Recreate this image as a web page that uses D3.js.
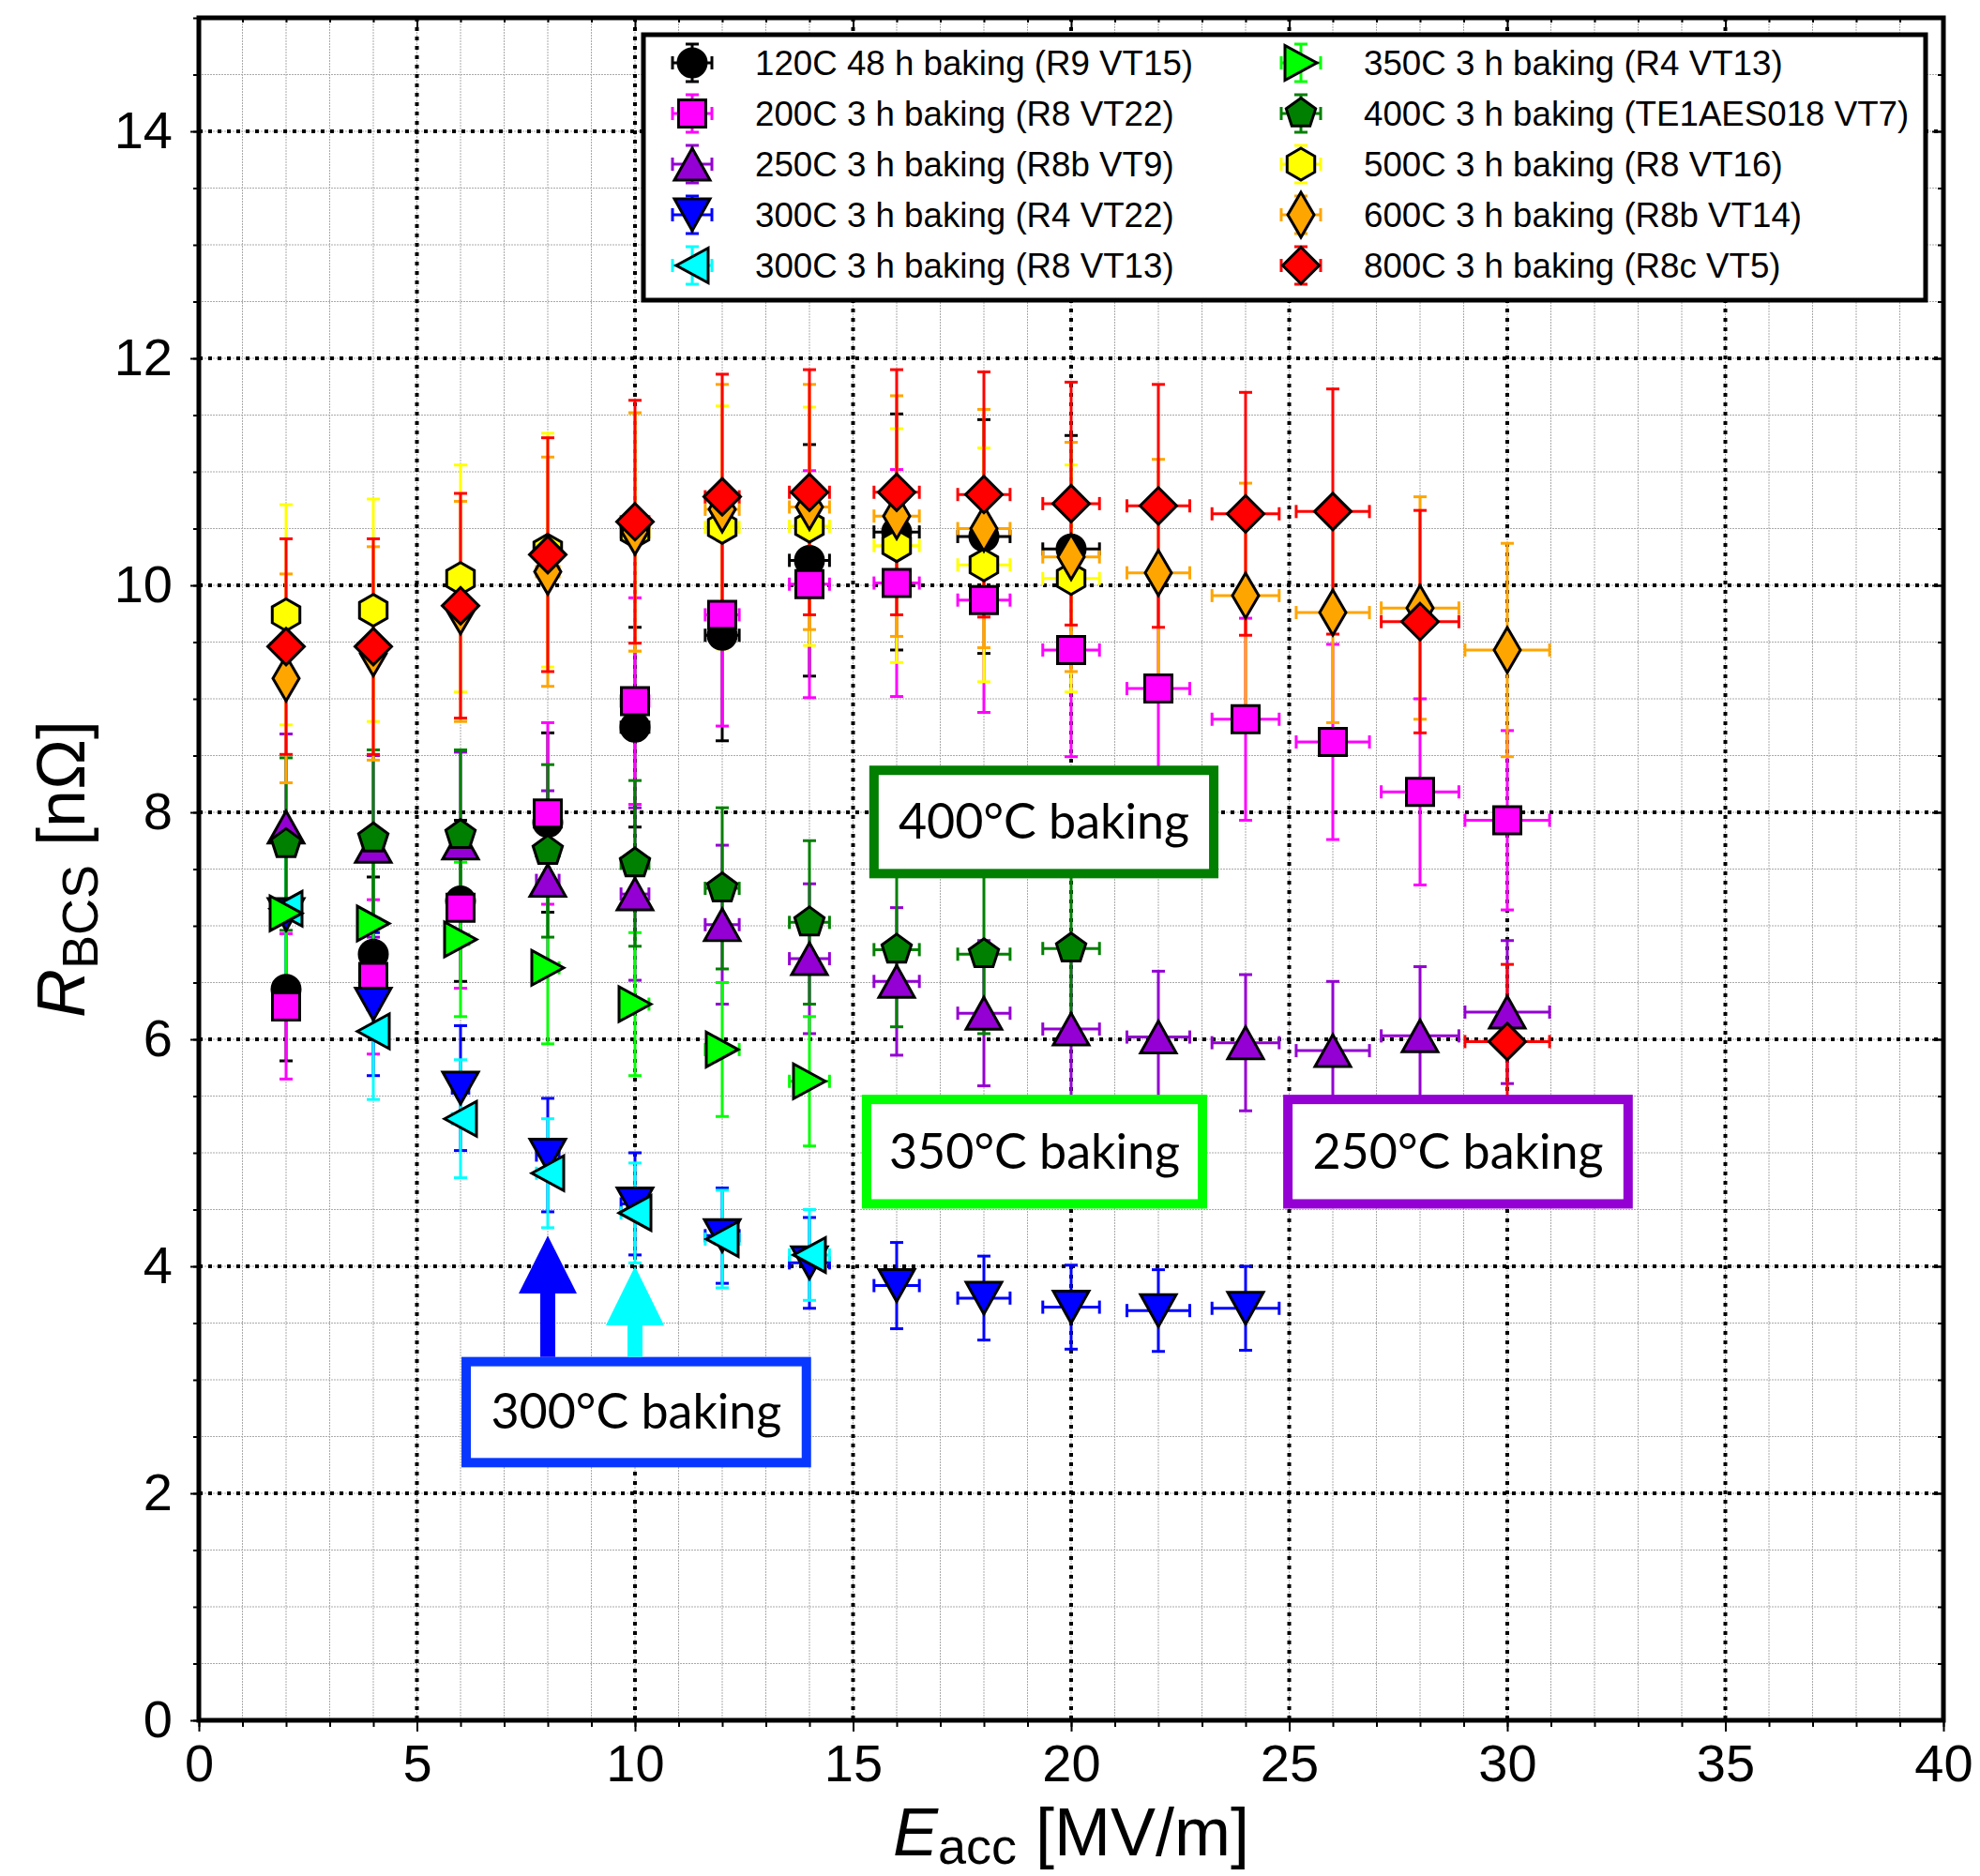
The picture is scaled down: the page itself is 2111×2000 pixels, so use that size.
<!DOCTYPE html>
<html>
<head>
<meta charset="utf-8">
<script src="https://cdn.jsdelivr.net/npm/d3@7"></script>
<style>
  body { margin: 0; background: #fff; }
  svg { display: block; }
</style>
</head>
<body>
<div id="chart"></div>
<script>
// Eacc points (MV/m), shared by all runs, and their horizontal error
var eacc    = [2, 4, 6, 8, 10, 12, 14, 16, 18, 20, 22, 24, 26, 28, 30];
var eaccErr = [0.06, 0.13, 0.19, 0.26, 0.32, 0.39, 0.46, 0.52, 0.6, 0.65, 0.72, 0.77, 0.84, 0.89, 0.97];

// R_BCS values [nOhm] and errors
var r120    = [6.44, 6.75, 7.22, 7.91, 8.75, 9.56, 10.22, 10.47, 10.43, 10.32];
var r120Err = [0.63, 0.68, 0.71, 0.79, 0.88, 0.93, 1.02, 1.04, 1.03, 1.0];
var r200    = [6.29, 6.55, 7.16, 7.99, 8.98, 9.74, 10.01, 10.02, 9.87, 9.43, 9.09, 8.82, 8.62, 8.18, 7.93];
var r200Err = [0.64, 0.68, 0.71, 0.8, 0.91, 0.98, 1.0, 1.0, 0.99, 0.94, 0.92, 0.89, 0.86, 0.82, 0.79];
var r250    = [7.87, 7.70, 7.73, 7.40, 7.28, 7.01, 6.71, 6.51, 6.23, 6.09, 6.02, 5.97, 5.90, 6.03, 6.24];
var r250Err = [0.82, 0.8, 0.8, 0.79, 0.76, 0.7, 0.66, 0.65, 0.64, 0.62, 0.58, 0.6, 0.61, 0.61, 0.63];
var r300a    = [7.10, 6.31, 5.57, 4.98, 4.55, 4.27, 4.03, 3.83, 3.72, 3.64, 3.61, 3.63];
var r300aErr = [0.7, 0.63, 0.55, 0.5, 0.45, 0.42, 0.4, 0.38, 0.37, 0.37, 0.36, 0.37];
var r300b    = [7.15, 6.07, 5.30, 4.82, 4.47, 4.24, 4.10];
var r300bErr = [0.65, 0.6, 0.52, 0.48, 0.44, 0.43, 0.4];
var r350    = [7.11, 7.02, 6.88, 6.63, 6.31, 5.91, 5.63];
var r350Err = [0.6, 0.65, 0.68, 0.67, 0.63, 0.59, 0.57];
var r400    = [7.72, 7.77, 7.80, 7.66, 7.55, 7.33, 7.03, 6.79, 6.75, 6.80];
var r400Err = [0.76, 0.78, 0.75, 0.76, 0.73, 0.71, 0.72, 0.68, 0.7, 0.7];
var r500    = [9.74, 9.78, 10.06, 10.31, 10.47, 10.51, 10.52, 10.35, 10.18, 10.06];
var r500Err = [0.97, 0.98, 1.0, 1.03, 1.05, 1.07, 1.05, 1.03, 1.03, 1.0];
var r600    = [9.18, 9.40, 9.77, 10.12, 10.47, 10.67, 10.69, 10.61, 10.50, 10.25, 10.11, 9.91, 9.76, 9.80, 9.43];
var r600Err = [0.92, 0.94, 0.97, 1.01, 1.05, 1.1, 1.08, 1.06, 1.05, 1.01, 1.0, 0.99, 0.97, 0.98, 0.94];
var r800    = [9.46, 9.46, 9.82, 10.27, 10.56, 10.78, 10.82, 10.82, 10.80, 10.72, 10.70, 10.63, 10.65, 9.68, 5.98];
var r800Err = [0.95, 0.95, 0.99, 1.03, 1.07, 1.08, 1.08, 1.08, 1.08, 1.07, 1.07, 1.07, 1.08, 0.98, 0.68];

var xTicks = [0, 5, 10, 15, 20, 25, 30, 35, 40];
var yTicks = [0, 2, 4, 6, 8, 10, 12, 14];

var series = [
  {label: "120C 48 h baking (R9 VT15)",      vals: r120,  errs: r120Err,  color: "#000000", shape: "circle"},
  {label: "200C 3 h baking (R8 VT22)",       vals: r200,  errs: r200Err,  color: "#ff00ff", shape: "square"},
  {label: "250C 3 h baking (R8b VT9)",       vals: r250,  errs: r250Err,  color: "#9400d3", shape: "triUp"},
  {label: "300C 3 h baking (R4 VT22)",       vals: r300a, errs: r300aErr, color: "#0000ff", shape: "triDown"},
  {label: "300C 3 h baking (R8 VT13)",       vals: r300b, errs: r300bErr, color: "#00ffff", shape: "triLeft"},
  {label: "350C 3 h baking (R4 VT13)",       vals: r350,  errs: r350Err,  color: "#00ff00", shape: "triRight"},
  {label: "400C 3 h baking (TE1AES018 VT7)", vals: r400,  errs: r400Err,  color: "#008000", shape: "pentagon"},
  {label: "500C 3 h baking (R8 VT16)",       vals: r500,  errs: r500Err,  color: "#ffff00", shape: "hexagon"},
  {label: "600C 3 h baking (R8b VT14)",      vals: r600,  errs: r600Err,  color: "#ffa500", shape: "diamondTall"},
  {label: "800C 3 h baking (R8c VT5)",       vals: r800,  errs: r800Err,  color: "#ff0000", shape: "diamond"}
];

// annotation boxes, in data coordinates
var notes = [
  {text: "400°C baking", color: "#007f00", x0: 15.48, x1: 23.27, y0: 8.37, y1: 7.46},
  {text: "350°C baking", color: "#00ff00", x0: 15.31, x1: 23.01, y0: 5.47, y1: 4.55},
  {text: "250°C baking", color: "#9400d3", x0: 24.97, x1: 32.77, y0: 5.47, y1: 4.55},
  {text: "300°C baking", color: "#0838ff", x0: 6.13,  x1: 13.93, y0: 3.16, y1: 2.27}
];
var arrows = [
  {x: 8,  tip: 4.27, head: 3.76, base: 3.16, color: "#0000ff"},
  {x: 10, tip: 4.00, head: 3.48, base: 3.16, color: "#00ffff"}
];

const width = 2111, height = 2000;
const plotL = 212, plotR = 2072, plotT = 19, plotB = 1834;
const font = "'Liberation Sans', Arial, Helvetica, sans-serif";

const x = d3.scaleLinear().domain([0, 40]).range([plotL, plotR]);
const y = d3.scaleLinear().domain([0, 15]).range([plotB, plotT]);

const svg = d3.select("#chart").append("svg")
  .attr("width", width)
  .attr("height", height);

// grid: light minor lines, then black dotted major lines
const grid = svg.append("g");
grid.selectAll(".gx").data(d3.range(1, 40)).enter().append("line")
  .attr("x1", d => x(d)).attr("x2", d => x(d))
  .attr("y1", plotT).attr("y2", plotB)
  .attr("stroke", "#aaaaaa").attr("stroke-width", 1).attr("stroke-dasharray", "2,1");
grid.selectAll(".gy").data(d3.range(1, 30).map(d => d / 2)).enter().append("line")
  .attr("y1", d => y(d)).attr("y2", d => y(d))
  .attr("x1", plotL).attr("x2", plotR)
  .attr("stroke", "#aaaaaa").attr("stroke-width", 1).attr("stroke-dasharray", "2,1");
grid.selectAll(".mx").data(xTicks.slice(1, -1)).enter().append("line")
  .attr("x1", d => x(d)).attr("x2", d => x(d))
  .attr("y1", plotT).attr("y2", plotB)
  .attr("stroke", "#000").attr("stroke-width", 4).attr("stroke-dasharray", "4,6");
grid.selectAll(".my").data(yTicks.slice(1)).enter().append("line")
  .attr("y1", d => y(d)).attr("y2", d => y(d))
  .attr("x1", plotL).attr("x2", plotR)
  .attr("stroke", "#000").attr("stroke-width", 4).attr("stroke-dasharray", "4,6");

// marker outlines centred on the point
function polygon(n, r, start) {
  var pts = d3.range(n).map(function(i) {
    var a = (start + i * 360 / n) * Math.PI / 180;
    return [r * Math.cos(a), r * Math.sin(a)];
  });
  return "M" + pts.join("L") + "Z";
}
function markerPath(shape) {
  switch (shape) {
    case "circle":      return "M15,0A15,15 0 1,1 -15,0A15,15 0 1,1 15,0Z";
    case "square":      return "M-14.5,-14.5H14.5V14.5H-14.5Z";
    case "triUp":       return "M0,-17L19,17L-19,17Z";
    case "triDown":     return "M0,17L19,-17L-19,-17Z";
    case "triLeft":     return "M-17,0L17,-18.5L17,18.5Z";
    case "triRight":    return "M17,0L-17,-18.5L-17,18.5Z";
    case "pentagon":    return polygon(5, 16.5, -90);
    case "hexagon":     return polygon(6, 17, -90);
    case "diamondTall": return "M0,-24L14,0L0,24L-14,0Z";
    case "diamond":     return "M0,-19.5L19.5,0L0,19.5L-19.5,0Z";
  }
}

function errorBar(g, cx, cy, x0, x1, y0, y1, color) {
  const cap = 7;
  const e = g.append("g").attr("stroke", color).attr("stroke-width", 3);
  e.append("line").attr("x1", cx).attr("x2", cx).attr("y1", y0).attr("y2", y1);
  e.append("line").attr("x1", cx - cap).attr("x2", cx + cap).attr("y1", y0).attr("y2", y0);
  e.append("line").attr("x1", cx - cap).attr("x2", cx + cap).attr("y1", y1).attr("y2", y1);
  e.append("line").attr("x1", x0).attr("x2", x1).attr("y1", cy).attr("y2", cy);
  e.append("line").attr("x1", x0).attr("x2", x0).attr("y1", cy - cap).attr("y2", cy + cap);
  e.append("line").attr("x1", x1).attr("x2", x1).attr("y1", cy - cap).attr("y2", cy + cap);
}

// error bars first, all runs, then markers in legend order
const errLayer = svg.append("g");
const markLayer = svg.append("g");
series.forEach(function(s) {
  s.vals.forEach(function(v, i) {
    errorBar(errLayer, x(eacc[i]), y(v),
      x(eacc[i] - eaccErr[i]), x(eacc[i] + eaccErr[i]),
      y(v + s.errs[i]), y(v - s.errs[i]), s.color);
  });
  markLayer.selectAll(null).data(s.vals).enter().append("path")
    .attr("d", markerPath(s.shape))
    .attr("transform", (v, i) => "translate(" + x(eacc[i]) + "," + y(v) + ")")
    .attr("fill", s.color)
    .attr("stroke", "#000").attr("stroke-width", 3);
});

// annotation boxes and arrows
const noteG = svg.append("g");
notes.forEach(function(n) {
  noteG.append("rect")
    .attr("x", x(n.x0)).attr("y", y(n.y0))
    .attr("width", x(n.x1) - x(n.x0)).attr("height", y(n.y1) - y(n.y0))
    .attr("fill", "#fff").attr("stroke", n.color).attr("stroke-width", 10);
  noteG.append("text")
    .attr("x", (x(n.x0) + x(n.x1)) / 2)
    .attr("y", (y(n.y0) + y(n.y1)) / 2 + 18)
    .attr("text-anchor", "middle")
    .style("font-family", "Lato, 'Open Sans', sans-serif")
    .style("font-size", "52px")
    .text(n.text);
});
arrows.forEach(function(a) {
  const cx = x(a.x);
  noteG.append("rect")
    .attr("x", cx - 8).attr("width", 16)
    .attr("y", y(a.head) - 1).attr("height", y(a.base) - y(a.head) - 4)
    .attr("fill", a.color);
  noteG.append("path")
    .attr("d", "M" + cx + "," + y(a.tip) + "L" + (cx + 31) + "," + y(a.head) + "L" + (cx - 31) + "," + y(a.head) + "Z")
    .attr("fill", a.color);
});

// legend
const lg = svg.append("g");
lg.append("rect")
  .attr("x", 686).attr("y", 37).attr("width", 1367).attr("height", 283)
  .attr("fill", "#fff").attr("stroke", "#000").attr("stroke-width", 5);
series.forEach(function(s, i) {
  const col = Math.floor(i / 5), row = i % 5;
  const mx = 738 + col * 649, my = 67 + row * 54;
  errorBar(lg, mx, my, mx - 21, mx + 21, my - 20, my + 20, s.color);
  lg.append("path")
    .attr("d", markerPath(s.shape))
    .attr("transform", "translate(" + mx + "," + my + ")")
    .attr("fill", s.color).attr("stroke", "#000").attr("stroke-width", 3);
  lg.append("text")
    .attr("x", mx + 67).attr("y", my + 13)
    .style("font-family", font).style("font-size", "36.7px")
    .text(s.label);
});

// axes: outward ticks bottom/left with labels, inward ticks top/right
function styleAxis(g) {
  g.select(".domain").remove();
  g.selectAll(".tick line").attr("stroke", "#000").attr("stroke-width", 2);
  g.selectAll("text").style("font-family", font).style("font-size", "56px").attr("fill", "#000");
}
svg.append("g").attr("transform", "translate(0," + plotB + ")")
  .call(d3.axisBottom(x).tickValues(d3.range(0, 41)).tickSize(7).tickFormat("")).call(styleAxis);
svg.append("g").attr("transform", "translate(0," + plotB + ")")
  .call(d3.axisBottom(x).tickValues(xTicks).tickSize(12).tickPadding(13)).call(styleAxis);
svg.append("g").attr("transform", "translate(0," + plotT + ")")
  .call(d3.axisBottom(x).tickValues(d3.range(0, 41)).tickSize(5).tickFormat("")).call(styleAxis);
svg.append("g").attr("transform", "translate(0," + plotT + ")")
  .call(d3.axisBottom(x).tickValues(xTicks).tickSize(12).tickFormat("")).call(styleAxis);
svg.append("g").attr("transform", "translate(" + plotL + ",0)")
  .call(d3.axisLeft(y).tickValues(d3.range(0, 31).map(d => d / 2)).tickSize(6).tickFormat("")).call(styleAxis);
svg.append("g").attr("transform", "translate(" + plotL + ",0)")
  .call(d3.axisLeft(y).tickValues(yTicks).tickSize(9).tickPadding(19)).call(styleAxis);
svg.append("g").attr("transform", "translate(" + plotR + ",0)")
  .call(d3.axisLeft(y).tickValues(d3.range(0, 31).map(d => d / 2)).tickSize(6).tickFormat("")).call(styleAxis);
svg.append("g").attr("transform", "translate(" + plotR + ",0)")
  .call(d3.axisLeft(y).tickValues(yTicks).tickSize(12).tickFormat("")).call(styleAxis);

// frame
svg.append("rect")
  .attr("x", plotL).attr("y", plotT).attr("width", plotR - plotL).attr("height", plotB - plotT)
  .attr("fill", "none").attr("stroke", "#000").attr("stroke-width", 5);

// axis titles
const xt = svg.append("text")
  .attr("x", (plotL + plotR) / 2).attr("y", 1978)
  .attr("text-anchor", "middle")
  .style("font-family", font).style("font-size", "72px");
xt.append("tspan").style("font-style", "italic").text("E");
xt.append("tspan").attr("dy", 9).style("font-size", "54px").text("acc");
xt.append("tspan").attr("dy", -9).text(" [MV/m]");

const yt = svg.append("text")
  .attr("transform", "translate(90," + (plotT + plotB) / 2 + ") rotate(-90)")
  .attr("text-anchor", "middle")
  .style("font-family", font).style("font-size", "72px");
yt.append("tspan").style("font-style", "italic").text("R");
yt.append("tspan").attr("dy", 14).style("font-size", "54px").text("BCS");
yt.append("tspan").attr("dy", -14).text(" [nΩ]");
</script>
</body>
</html>
